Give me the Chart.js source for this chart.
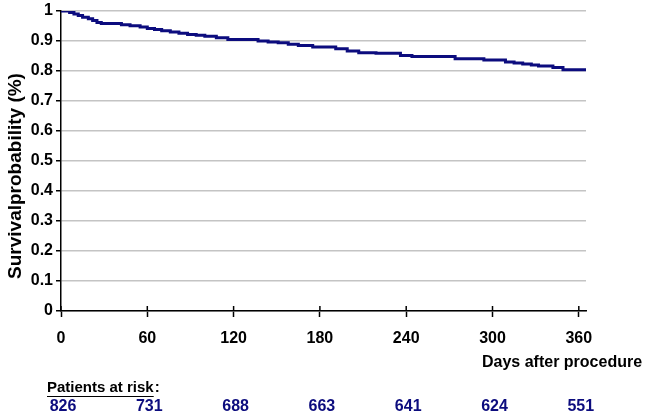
<!DOCTYPE html>
<html>
<head>
<meta charset="utf-8">
<script src="https://cdn.jsdelivr.net/npm/chart.js@4"></script>
<style>
  html, body { margin: 0; padding: 0; background: #fff; }
  #caja { width: 650px; height: 415px; position: relative; }
</style>
</head>
<body>
<div id="caja"><canvas id="grafico" width="650" height="415"></canvas></div>
<script>
// Kaplan-Meier: día en que empieza cada escalón y su supervivencia
const dias = [0, 6, 9, 12, 15, 19, 22, 25, 28, 42, 48, 55, 60, 65, 70, 76, 82, 88, 94, 100,
  108, 116, 137, 144, 151, 158, 165, 175, 191, 199, 207, 219, 236, 244, 274, 294, 309, 315,
  321, 327, 332, 342, 349, 365];
const supervivencia = [1.0, 0.995, 0.99, 0.985, 0.979, 0.974, 0.968, 0.962, 0.958, 0.954, 0.951,
  0.947, 0.942, 0.938, 0.934, 0.930, 0.926, 0.922, 0.919, 0.916, 0.911, 0.905, 0.900, 0.897,
  0.894, 0.889, 0.885, 0.880, 0.874, 0.867, 0.861, 0.859, 0.852, 0.848, 0.841, 0.837, 0.830,
  0.827, 0.823, 0.820, 0.817, 0.812, 0.804, 0.804];

// pacientes en riesgo bajo el eje
const diasRiesgo = [0, 60, 120, 180, 240, 300, 360];
const pacientesRiesgo = [826, 731, 688, 663, 641, 624, 551];

const FUENTE = '"Liberation Sans", Arial, Helvetica, sans-serif';
const AZUL = '#0c0c7e';

// ───────────────────────── textos y marcas extra
const extras = {
  id: 'extras',
  afterDraw(chart) {
    const { ctx, chartArea: area, scales: { x } } = chart;
    ctx.save();

    // marcas del eje x por encima de la línea
    ctx.strokeStyle = '#000';
    ctx.lineWidth = 1.5;
    x.ticks.forEach(t => {
      const px = x.getPixelForValue(t.value);
      ctx.beginPath();
      ctx.moveTo(px, area.bottom - 5);
      ctx.lineTo(px, area.bottom);
      ctx.stroke();
    });

    ctx.fillStyle = '#000';

    // título eje y
    ctx.save();
    ctx.translate(16, 176);
    ctx.rotate(-Math.PI / 2);
    ctx.font = `bold 19px ${FUENTE}`;
    ctx.textAlign = 'center';
    ctx.textBaseline = 'middle';
    ctx.fillText('Survivalprobability (%)', 0, 0);
    ctx.restore();

    // título eje x
    ctx.font = `bold 16px ${FUENTE}`;
    ctx.textAlign = 'left';
    ctx.textBaseline = 'middle';
    ctx.fillText('Days after procedure', area.right - 104, 363);

    // "Patients at risk:"
    ctx.font = `bold 15px ${FUENTE}`;
    const txt = 'Patients at risk';
    const w = ctx.measureText(txt).width;
    ctx.fillText(txt, 47, 388);
    ctx.fillText(':', 47 + w + 1, 388);
    ctx.beginPath();
    ctx.lineWidth = 1;
    ctx.moveTo(47, 396.5);
    ctx.lineTo(47 + w, 396.5);
    ctx.stroke();

    // números en riesgo
    ctx.fillStyle = AZUL;
    ctx.font = `bold 16px ${FUENTE}`;
    ctx.textAlign = 'center';
    diasRiesgo.forEach((d, i) => {
      ctx.fillText(String(pacientesRiesgo[i]), x.getPixelForValue(d) + 2, 407);
    });

    ctx.restore();
  }
};

const ctx = document.getElementById('grafico').getContext('2d');
new Chart(ctx, {
  type: 'line',
  data: {
    datasets: [{
      label: 'Survival',
      data: dias.map((d, i) => ({ x: d, y: supervivencia[i] })),
      borderColor: AZUL,
      borderWidth: 3,
      pointRadius: 0,
      stepped: true,
      fill: false
    }]
  },
  options: {
    responsive: false,
    devicePixelRatio: 1,
    animation: false,
    layout: { padding: { top: 8, right: 64, left: 0, bottom: 0 } },
    plugins: { legend: { display: false }, tooltip: { enabled: false } },
    scales: {
      x: {
        type: 'linear',
        min: 0,
        max: 365,
        ticks: {
          stepSize: 60,
          includeBounds: false,
          color: '#000',
          padding: 12,
          maxRotation: 0,
          font: { family: FUENTE, size: 16, weight: 'bold' }
        },
        grid: { drawOnChartArea: false, tickLength: 6, tickColor: '#000', tickWidth: 1.5 },
        border: { color: '#000', width: 1.5 },
        afterFit: s => { s.height = 104; }
      },
      y: {
        min: 0,
        max: 1,
        ticks: {
          stepSize: 0.1,
          color: '#000',
          padding: 3,
          callback: v => String(+v.toFixed(1)),
          font: { family: FUENTE, size: 16, weight: 'bold', lineHeight: 1 }
        },
        grid: { color: '#c4c4c4', lineWidth: 1.5, tickColor: '#000', tickLength: 5, tickWidth: 1.5 },
        border: { color: '#000', width: 1.5 },
        afterFit: s => { s.width = 61; }
      }
    }
  },
  plugins: [extras]
});
</script>
</body>
</html>
